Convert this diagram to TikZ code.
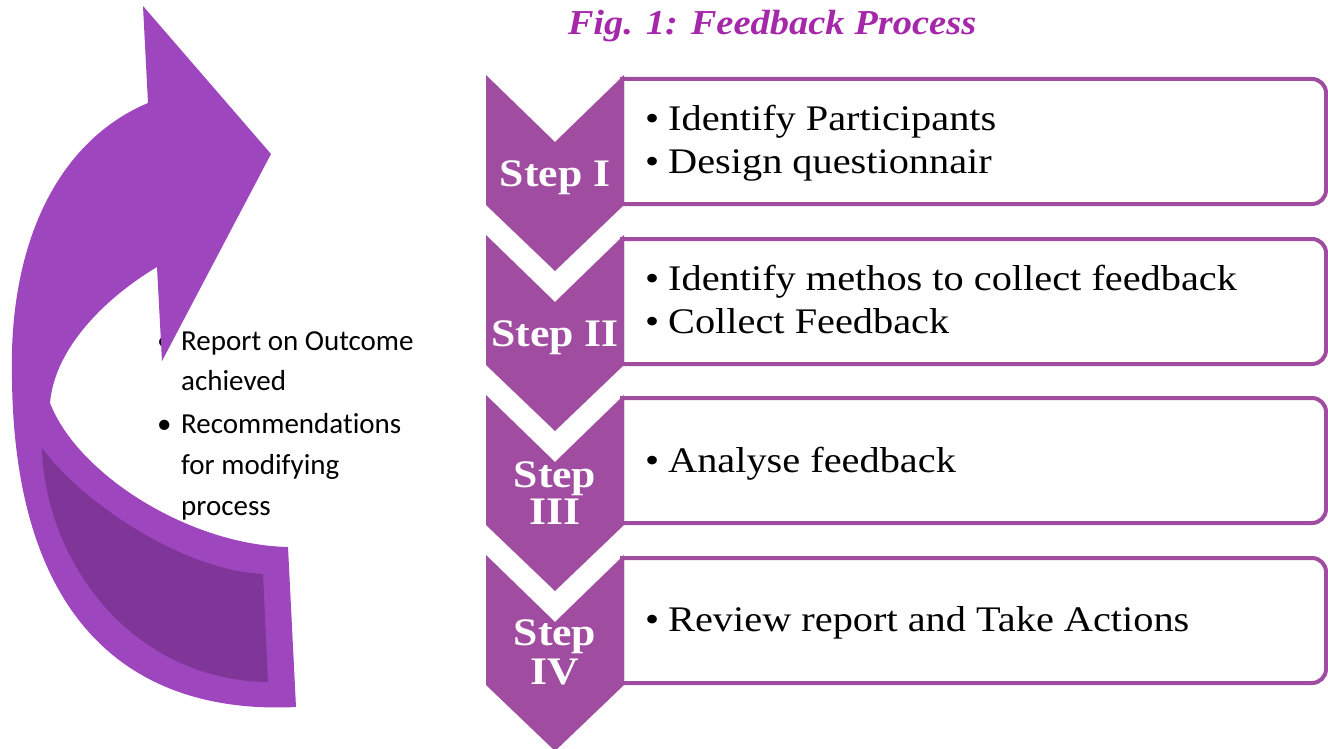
\documentclass[tikz,border=0pt]{standalone}
\usepackage{fontspec}
\setmainfont{Liberation Serif}
\newfontfamily\bodyfont[FakeStretch=1.12]{Liberation Serif}
\newfontfamily\stepfont[FakeStretch=1.12]{Liberation Serif}
\newfontfamily\titlefont[FakeStretch=1.1]{Liberation Serif}
\newfontfamily\leftfont[Ligatures=NoCommon]{Carlito}
\definecolor{chevc}{RGB}{160,77,161}
\definecolor{arrowc}{RGB}{157,70,190}
\definecolor{arrowd}{RGB}{127,54,152}
\definecolor{titlec}{RGB}{165,40,170}
\tikzset{
  chevshape/.style={fill=chevc},
  boxline/.style={draw=chevc, line width=4pt, fill=white},
  steplbl/.style={text=white, font=\stepfont\bfseries\fontsize{39}{39}\selectfont, inner sep=0pt, anchor=base},
  bodytxt/.style={font=\bodyfont\fontsize{36}{43}\selectfont, inner sep=0pt, anchor=base west},
  lefttxt/.style={font=\leftfont\fontsize{29}{41}\selectfont, inner sep=0pt, anchor=base west},
  titletxt/.style={font=\titlefont\bfseries\itshape\fontsize{35}{35}\selectfont, text=titlec, inner sep=0pt, anchor=base}
}
\newcommand{\bul}[1]{\makebox[#1][l]{\textbullet}}
\begin{document}
\begin{tikzpicture}[x=1pt,y=-1pt]
\path[use as bounding box] (0,0) rectangle (1328,749);

% title
\node[titletxt] (title) at (772,35) {Fig. 1: Feedback Process};

% rounded boxes
\foreach \T in {79,239,398,558}{
  \draw[boxline] (622,{\T+125}) -- (622,\T) -- (1312,\T)
    arc[start angle=-90, end angle=0, radius=14] -- (1326,{\T+111})
    arc[start angle=0, end angle=90, radius=14] -- cycle;
}

% chevrons
\foreach \T in {75,235,395,555}{
  \fill[chevshape] (486,\T) -- (555,{\T+67}) -- (624,\T) -- (624,{\T+130})
    -- (555,{\T+196}) -- (486,{\T+130}) -- cycle;
}

% step labels
\node[steplbl] (s1) at (555,186) {Step I};
\node[steplbl] (s2) at (555,346) {Step II};
\node[steplbl] (s3a) at (555,487) {Step};
\node[steplbl] (s3b) at (555,524) {III};
\node[steplbl] (s4a) at (555,645) {Step};
\node[steplbl] (s4b) at (555,684) {IV};

% box texts
\node[bodytxt] (b1a) at (645,131) {\bul{23pt}Identify Participants};
\node[bodytxt] (b1b) at (645,174) {\bul{23pt}Design questionnair};
\node[bodytxt] (b2a) at (645,290) {\bul{23pt}Identify methos to collect feedback};
\node[bodytxt] (b2b) at (645,333) {\bul{23pt}Collect Feedback};
\node[bodytxt] (b3a) at (645,472) {\bul{23pt}Analyse feedback};
\node[bodytxt] (b4a) at (645,631) {\bul{23pt}Review report and Take Actions};

% left texts
\node[lefttxt] (l1) at (157,350) {\bul{24pt}Report on Outcome};
\node[lefttxt] (l2) at (181,390) {achieved};
\node[lefttxt] (l3) at (157,433) {\bul{24pt}Recommendations};
\node[lefttxt] (l4) at (181,474) {for modifying};
\node[lefttxt] (l5) at (181,515) {process};

% curved arrow
\fill[arrowc] (143,6) -- (271,154) -- (162,361) -- (157,267)
  .. controls (110,295) and (55,345) .. (50,403)
  .. controls (78,475) and (190,545) .. (288,547)
  -- (296,707)
  .. controls (130,715) and (15,620) .. (12,380)
  .. controls (8,240) and (60,140) .. (148,103) -- cycle;
\fill[arrowd] (42,448) .. controls (45,560) and (130,680) .. (268,682)
  -- (263,574) .. controls (180,570) and (80,500) .. (42,448) -- cycle;
\end{tikzpicture}
\end{document}
